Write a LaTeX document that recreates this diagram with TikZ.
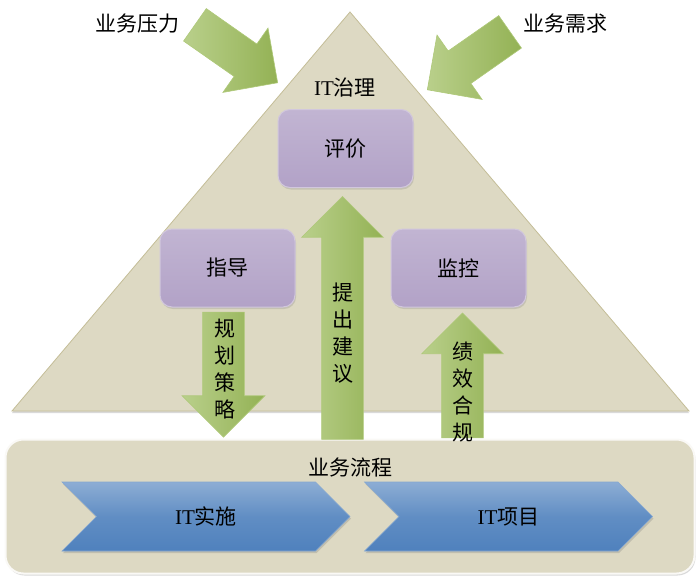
\documentclass[tikz,border=0pt]{standalone}
\usepackage{fontspec}
\setmainfont{Noto Sans CJK SC}
\newfontfamily\latinfont{Liberation Serif}
\usepackage{xcolor}
\definecolor{tanbg}{RGB}{221,217,195}
\definecolor{tanframe}{RGB}{196,189,151}
\definecolor{arrowgreen}{RGB}{155,187,89}
\definecolor{boxpurple}{RGB}{178,162,199}
\definecolor{chevblue}{RGB}{79,129,189}
\usetikzlibrary{shapes.arrows,shapes.symbols,shadows,calc}
\tikzset{
  lbl/.style={font=\fontsize{21}{25}\selectfont,text=black,inner sep=0pt},
  vlbl/.style={font=\fontsize{21}{27}\selectfont,text=black,
    align=center,inner sep=0pt},
  role_box/.style={rectangle,rounded corners=12pt,
    top color=boxpurple!80!white,bottom color=boxpurple,
    draw=boxpurple!60!white,line width=1pt,
    minimum width=135pt,minimum height=78pt,
    font=\fontsize{21}{25}\selectfont,
    drop shadow={opacity=0.25,shadow xshift=1pt,shadow yshift=-2pt}},
  blk_arrow/.style={single arrow,single arrow head extend=20pt,
    inner xsep=0pt,inner ysep=20.5pt,anchor=tip,
    left color=arrowgreen!70!white,right color=arrowgreen!95!black,
    draw=arrowgreen!80!white,line width=0.6pt},
  chev/.style={signal,signal from=west,signal to=east,
    minimum width=288pt,minimum height=69pt,inner sep=0pt,
    top color=chevblue!65!white,bottom color=chevblue,
    middle color=chevblue!90!white,
    draw=chevblue!70!white,line width=0.6pt,
    font=\fontsize{21}{25}\selectfont,
    drop shadow={opacity=0.3,shadow xshift=1pt,shadow yshift=-2pt}},
  flow_box/.style={rectangle,rounded corners=18pt,fill=tanbg,
    draw=white!85!tanbg,line width=2pt,
    minimum width=689pt,minimum height=134pt,
    drop shadow={opacity=0.3,shadow xshift=1pt,shadow yshift=-2pt}},
}

\begin{document}
\begin{tikzpicture}[x=1pt,y=-1pt]
  \useasboundingbox (0,0) rectangle (700,582);

  % governance triangle
  \filldraw[fill=tanbg,draw=tanframe,line width=0.8pt,
    drop shadow={opacity=0.3,shadow xshift=0pt,shadow yshift=-2pt}]
    (350,12) coordinate (apex) -- (689,411) -- (12,411) -- cycle;
  \node (gov) [lbl] at (345,88) {{\latinfont IT}治理};

  % governance roles
  \node (eval)    [role_box] at (345.5,148.5) {评价};
  \node (direct)  [role_box] at (227.5,268)   {指导};
  \node (monitor) [role_box] at (458.5,268)   {监控};

  % business process band
  \node (flow) [flow_box] at (350,506.5) {};
  \node (flowtxt) [lbl] at (350,467) {业务流程};
  \node (impl) [chev] at (206,516.5) {{\latinfont IT}实施};
  \node (proj) [chev] at (508.5,516.5) {{\latinfont IT}项目};

  % outside drivers
  \node (press)  [lbl] at (137,24) {业务压力};
  \node (demand) [lbl] at (565,24) {业务需求};
  \node (pressarr)  [blk_arrow,rotate=-35,minimum height=101pt,
    minimum width=78pt,inner ysep=19.5pt,
    single arrow head extend=19.5pt] at (278,83) {};
  \node (demandarr) [blk_arrow,rotate=215,minimum height=101pt,
    minimum width=78pt,inner ysep=19.5pt,
    single arrow head extend=19.5pt] at (427,90) {};

  % flows between levels
  \node (advarr)  [blk_arrow,rotate=90,minimum height=243pt,
    minimum width=81pt] at ($(eval.south)+(-3,8)$) {};
  \node (planarr) [blk_arrow,rotate=-90,minimum height=125pt,
    minimum width=82pt,single arrow head extend=20.5pt]
    at ($(direct.south)+(-4,130)$) {};
  \node (perfarr) [blk_arrow,rotate=90,minimum height=125pt,
    minimum width=81pt] at ($(monitor.south)+(4,5)$) {};

  \node (advtxt)  [vlbl] at (343,333) {提\\出\\建\\议};
  \node (plantxt) [vlbl] at (225,369) {规\\划\\策\\略};
  \node (perftxt) [vlbl] at (463,392) {绩\\效\\合\\规};
\end{tikzpicture}
\end{document}
